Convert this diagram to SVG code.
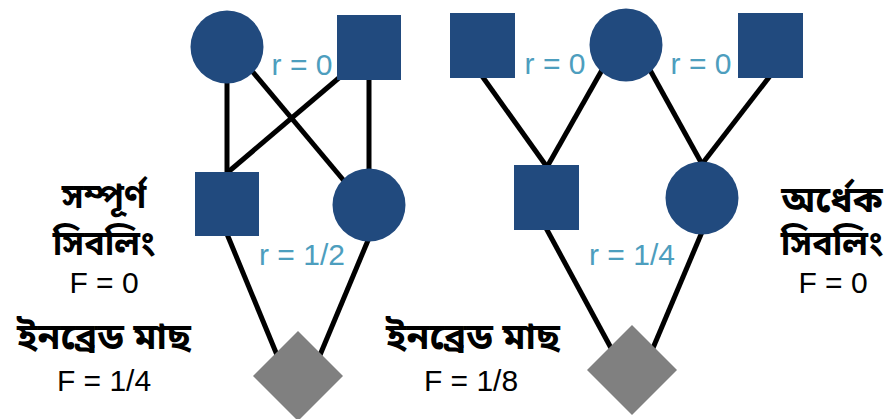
<svg xmlns="http://www.w3.org/2000/svg" width="891" height="419" viewBox="0 0 891 419">
  <style>
    .node { fill: #214a7e; }
    .child { fill: #808080; }
    .edge { stroke: #000; stroke-width: 5; fill: none; }
    .r { font-family: "Liberation Sans", Arial, sans-serif; font-size: 30px; fill: #4d9ebe; text-anchor: middle; }
    .f { font-family: "Liberation Sans", Arial, sans-serif; font-size: 30px; fill: #000; text-anchor: middle; }
    .bn { font-family: "Noto Sans Bengali", "Noto Serif Bengali", "Lohit Bengali", "Noto Sans", sans-serif; font-size: 34px; font-weight: bold; fill: #000; text-anchor: middle; }
    .bn.wide { font-size: 37px; }
  </style>
  <rect width="891" height="419" fill="#fff"/>

  <!-- connectors -->
  <g id="connectors">
    <!-- full siblings -->
    <line class="edge" x1="227" y1="80" x2="227" y2="174"/>
    <line class="edge" x1="252" y1="71" x2="345" y2="182"/>
    <line class="edge" x1="340" y1="77" x2="227" y2="173"/>
    <line class="edge" x1="369" y1="78" x2="369" y2="172"/>
    <line class="edge" x1="227" y1="234" x2="277" y2="355"/>
    <line class="edge" x1="369" y1="238" x2="320" y2="355"/>
    <!-- half siblings -->
    <line class="edge" x1="482" y1="76" x2="547" y2="167"/>
    <line class="edge" x1="602" y1="70" x2="547" y2="167"/>
    <line class="edge" x1="650" y1="70" x2="702" y2="164"/>
    <line class="edge" x1="770" y1="76" x2="702" y2="164"/>
    <line class="edge" x1="546" y1="228" x2="611" y2="348"/>
    <line class="edge" x1="702" y1="232" x2="653" y2="348"/>
  </g>

  <!-- full sibling pedigree -->
  <g id="dam1"><circle class="node" cx="227" cy="47" r="36.5"/></g>
  <g id="sire1"><rect class="node" x="337" y="15" width="64" height="65"/></g>
  <g id="brother1"><rect class="node" x="195" y="172" width="64" height="64"/></g>
  <g id="sister1"><circle class="node" cx="369" cy="205" r="36.5"/></g>
  <g id="offspring1"><polygon class="child" points="298,331 343,376 298,421 253,376"/></g>

  <!-- half sibling pedigree -->
  <g id="sire2a"><rect class="node" x="450" y="13" width="65" height="65"/></g>
  <g id="dam2"><circle class="node" cx="626" cy="45" r="36.5"/></g>
  <g id="sire2b"><rect class="node" x="738" y="13" width="65" height="65"/></g>
  <g id="brother2"><rect class="node" x="514" y="165" width="65" height="65"/></g>
  <g id="sister2"><circle class="node" cx="702" cy="198" r="36.5"/></g>
  <g id="offspring2"><polygon class="child" points="632,325 677,370 632,415 587,370"/></g>

  <!-- relatedness labels -->
  <g id="labels-r">
    <text class="r" x="302" y="75">r = 0</text>
    <text class="r" x="555" y="74">r = 0</text>
    <text class="r" x="701" y="74">r = 0</text>
    <text class="r" x="302" y="265">r = 1/2</text>
    <text class="r" x="632" y="265">r = 1/4</text>
  </g>

  <!-- side captions -->
  <g id="caption-full">
    <text class="bn" x="104" y="208">সম্পূর্ণ</text>
    <text class="bn" x="104" y="255">সিবলিং</text>
    <text class="f" x="104" y="293">F = 0</text>
  </g>
  <g id="caption-inbred1">
    <text class="bn wide" x="104" y="349">ইনব্রেড মাছ</text>
    <text class="f" x="104" y="391">F = 1/4</text>
  </g>
  <g id="caption-inbred2">
    <text class="bn wide" x="473" y="349">ইনব্রেড মাছ</text>
    <text class="f" x="471" y="391">F = 1/8</text>
  </g>
  <g id="caption-half">
    <text class="bn wide" x="832" y="212">অর্ধেক</text>
    <text class="bn" x="832" y="255">সিবলিং</text>
    <text class="f" x="833" y="293">F = 0</text>
  </g>
</svg>
